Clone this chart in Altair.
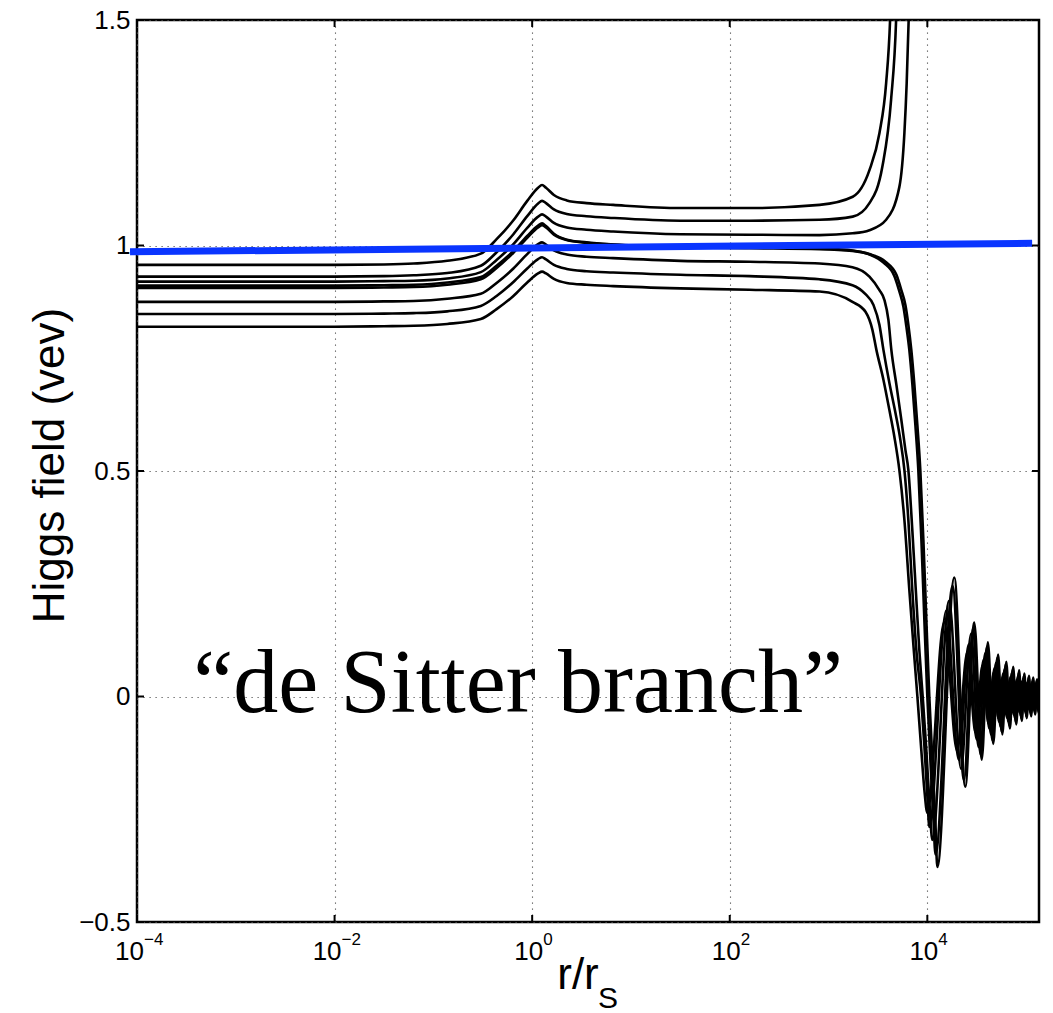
import altair as alt
import pandas as pd

# ---------------- data ----------------
# shared exponents (log10 r) for the left part of every curve
HEAD_EXP = [-4, -2, -1.5, -1.2, -0.86, -0.52, -0.36, -0.19, -0.05, 0.06, 0.1, 0.14,
            0.22, 0.35, 0.55, 0.82, 1.5, 2.2, 2.91]

C1_HEAD = [.957, .957, .958, .960, .966, .982, 1.014, 1.056, 1.099, 1.128, 1.134, 1.128,
           1.112, 1.100, 1.094, 1.090, 1.083, 1.083, 1.090]
C2_HEAD = [.931, .931, .932, .934, .939, .955, .985, 1.025, 1.065, 1.093, 1.099, 1.094,
           1.080, 1.070, 1.065, 1.061, 1.055, 1.055, 1.057]
C3_HEAD = [.920, .920, .921, .922, .927, .941, .968, 1.003, 1.039, 1.064, 1.069, 1.064,
           1.050, 1.040, 1.035, 1.031, 1.025, 1.024, 1.023]
C4_HEAD = [.911, .911, .912, .913, .918, .930, .955, .988, 1.021, 1.044, 1.049, 1.043,
           1.026, 1.013, 1.007, 1.002, .996, .994, .992]
C5_HEAD = [.906, .906, .907, .908, .913, .925, .950, .984, 1.017, 1.040, 1.045, 1.040,
           1.024, 1.012, 1.006, 1.002, .998, .996, .993]
C6_HEAD = [.875, .875, .876, .877, .882, .893, .917, .949, .981, 1.003, 1.007, 1.002,
           .989, .980, .975, .972, .966, .964, .960]
C7_HEAD = [.848, .848, .849, .850, .854, .866, .888, .919, .949, .970, .974, .969,
           .957, .948, .943, .940, .935, .932, .925]
C8_HEAD = [.820, .820, .821, .822, .826, .837, .859, .888, .918, .938, .942, .938,
           .926, .917, .913, .910, .905, .902, .898]

# break-away part (log10 r, value)
C1_MID_EXP = [3.245, 3.414, 3.515, 3.583, 3.623, 3.66]
C1_MID = [1.108, 1.167, 1.249, 1.36, 1.5, 1.8]
C2_MID_EXP = [3.245, 3.414, 3.545, 3.633, 3.684, 3.72]
C2_MID = [1.064, 1.094, 1.175, 1.323, 1.5, 1.8]
C3_MID_EXP = [3.245, 3.414, 3.583, 3.717, 3.768, 3.791, 3.811, 3.84]
C3_MID = [1.027, 1.034, 1.057, 1.13, 1.25, 1.36, 1.5, 1.8]
C4_MID_EXP = [3.242, 3.414, 3.576, 3.687, 3.737, 3.778, 3.808, 3.838, 3.869, 3.899, 3.929,
              3.960, 3.990, 4.020, 4.051, 4.081, 4.101]
C4_MID = [.988, .981, .964, .935, .901, .868, .824, .768, .691, .602, .502,
          .347, .170, 0.0, -.141, -.274, -.378]
C5_MID_EXP = [3.242, 3.414, 3.556, 3.667, 3.717, 3.758, 3.788, 3.818, 3.849, 3.879, 3.909,
              3.940, 3.970, 4.000, 4.031, 4.061, 4.083]
C5_MID = [.989, .980, .962, .932, .898, .864, .820, .768, .691, .602, .502,
          .347, .170, 0.0, -.141, -.270, -.350]
C6_MID_EXP = [3.242, 3.414, 3.515, 3.566, 3.606, 3.636, 3.687, 3.737, 3.778, 3.808, 3.848,
              3.889, 3.919, 3.953, 3.990, 4.020, 4.051]
C6_MID = [.952, .931, .901, .879, .835, .768, .691, .613, .547, .502, .369,
          .214, .103, 0.0, -.119, -.230, -.318]
C7_MID_EXP = [3.242, 3.374, 3.455, 3.515, 3.556, 3.616, 3.677, 3.727, 3.768, 3.808, 3.848,
              3.889, 3.936, 3.970, 4.000, 4.020]
C7_MID = [.912, .892, .868, .824, .768, .695, .629, .569, .502, .391, .236,
          .103, 0.0, -.109, -.220, -.289]
C8_MID_EXP = [3.242, 3.374, 3.444, 3.485, 3.556, 3.616, 3.667, 3.717, 3.768, 3.818, 3.859,
              3.899, 3.939, 3.970, 4.000]
C8_MID = [.875, .853, .813, .768, .702, .635, .575, .502, .391, .236, .114,
          .001, -.119, -.207, -.258]

# oscillating tails: extrema (r, value)
C4_TAIL_R = [18750, 24200, 29850, 35500, 41000, 46500, 52000, 57500, 63000, 68500, 74000,
             79500, 85000, 90500, 96000, 101500, 107000, 112500, 118000, 123500, 129000,
             134500, 140000]
C4_TAIL = [0.264, -0.200, 0.164, -0.140, 0.120, -0.105, 0.093, -0.084, 0.077, -0.071, 0.066,
           -0.062, 0.058, -0.054, 0.051, -0.048, 0.046, -0.044, 0.042, -0.040, 0.038,
           -0.037, 0.035]
C5_TAIL_R = [18000, 23500, 29000, 34500, 40000, 45500, 51000, 56500, 62000, 67500, 73000,
             78500, 84000, 89500, 95000, 100500, 106000, 111500, 117000, 122500, 128000,
             133500, 139000]
C5_TAIL = [0.245, -0.185, 0.152, -0.128, 0.110, -0.097, 0.086, -0.078, 0.071, -0.065, 0.060,
           -0.056, 0.052, -0.049, 0.046, -0.044, 0.042, -0.040, 0.038, -0.036, 0.035,
           -0.033, 0.032]
C6_TAIL_R = [16600, 21900, 27700, 33000, 38500, 44000, 49500, 55000, 60500, 66000, 71500,
             77000, 82500, 88000, 93500, 99000, 104500, 110000, 115500, 121000, 126500,
             132000, 137500]
C6_TAIL = [0.212, -0.160, 0.139, -0.112, 0.096, -0.084, 0.075, -0.067, 0.061, -0.056, 0.052,
           -0.048, 0.045, -0.042, 0.040, -0.037, 0.035, -0.034, 0.032, -0.031, 0.029,
           -0.028, 0.027]
C7_TAIL_R = [15500, 20800, 26200, 31600, 37000, 42400, 47800, 53200, 58600, 64000, 69400,
             74800, 80200, 85600, 91000, 96400, 101800, 107200, 112600, 118000, 123400,
             128800, 134200, 139600]
C7_TAIL = [0.190, -0.140, 0.115, -0.095, 0.081, -0.071, 0.063, -0.056, 0.051, -0.047, 0.043,
           -0.040, 0.037, -0.035, 0.033, -0.031, 0.029, -0.028, 0.027, -0.025, 0.024,
           -0.023, 0.022, -0.021]
C8_TAIL_R = [14800, 20000, 25400, 30800, 36200, 41600, 47000, 52400, 57800, 63200, 68600,
             74000, 79400, 84800, 90200, 95600, 101000, 106400, 111800, 117200, 122600,
             128000, 133400, 138800]
C8_TAIL = [0.165, -0.120, 0.098, -0.081, 0.069, -0.060, 0.053, -0.048, 0.043, -0.040, 0.036,
           -0.034, 0.031, -0.029, 0.028, -0.026, 0.025, -0.024, 0.022, -0.021, 0.020,
           -0.020, 0.019, -0.018]

BLUE_R = [8.5e-5, 1.15e5]
BLUE_V = [0.986, 1.005]

X_TICKS = [1e-4, 1e-2, 1, 1e2, 1e4]
X_TICK_EXP = ["\u22124", "\u22122", "0", "2", "4"]
Y_TICKS = [-0.5, 0, 0.5, 1, 1.5]

ANN_TEXT = "\u201cde Sitter branch\u201d"
ANN_R = 0.72
ANN_V = -0.035

Y_TITLE = "Higgs field (vev)"
X_TITLE = "r/r"
X_TITLE_SUB = "S"

# ---------------- build tables ----------------
curves = [
    ("C1", C1_HEAD, C1_MID_EXP, C1_MID, [], []),
    ("C2", C2_HEAD, C2_MID_EXP, C2_MID, [], []),
    ("C3", C3_HEAD, C3_MID_EXP, C3_MID, [], []),
    ("C4", C4_HEAD, C4_MID_EXP, C4_MID, C4_TAIL_R, C4_TAIL),
    ("C5", C5_HEAD, C5_MID_EXP, C5_MID, C5_TAIL_R, C5_TAIL),
    ("C6", C6_HEAD, C6_MID_EXP, C6_MID, C6_TAIL_R, C6_TAIL),
    ("C7", C7_HEAD, C7_MID_EXP, C7_MID, C7_TAIL_R, C7_TAIL),
    ("C8", C8_HEAD, C8_MID_EXP, C8_MID, C8_TAIL_R, C8_TAIL),
]
rows = []
for name, head, mexp, mval, tr, tv in curves:
    for e, v in zip(HEAD_EXP, head):
        rows.append({"curve": name, "r": 10.0 ** e, "v": v})
    for e, v in zip(mexp, mval):
        rows.append({"curve": name, "r": 10.0 ** e, "v": v})
    for r, v in zip(tr, tv):
        rows.append({"curve": name, "r": float(r), "v": v})
df = pd.DataFrame(rows)

blue_df = pd.DataFrame({"r": BLUE_R, "v": BLUE_V})
xt_df = pd.DataFrame({"r": X_TICKS, "e": X_TICK_EXP})
yt_df = pd.DataFrame({"v": Y_TICKS})
ann_df = pd.DataFrame({"r": [ANN_R], "v": [ANN_V], "t": [ANN_TEXT]})

W = 902
H = 902
FONT = "Liberation Sans"

xs = alt.Scale(type="log", domain=[1e-4, 1.35e5], nice=False)
ys = alt.Scale(domain=[-0.5, 1.5], nice=False)

x_axis = alt.Axis(values=X_TICKS, grid=True, labels=False, ticks=False, domain=False,
                  title=None, gridDash=[1.2, 4.8], gridColor="#555", gridWidth=1.1)
y_axis = alt.Axis(values=Y_TICKS, format="~g", grid=True, ticks=False, domain=False,
                  gridDash=[1.2, 4.8], gridColor="#555", gridWidth=1.1,
                  labelFontSize=26, labelFont=FONT, labelColor="black", labelPadding=7,
                  title=Y_TITLE, titleFontSize=44, titleFont=FONT, titleFontWeight="normal",
                  titleColor="black", titleAngle=270, titleX=-87, titleY=445,
                  titleAlign="center", titleBaseline="middle")


def X():
    return alt.X("r:Q", scale=xs, axis=x_axis)


def Y():
    return alt.Y("v:Q", scale=ys, axis=y_axis)


lines = alt.Chart(df).mark_line(interpolate="monotone", clip=True, color="black",
                                strokeWidth=2.6).encode(x=X(), y=Y(), detail="curve:N")

blue = alt.Chart(blue_df).mark_line(color="#0a35ff", strokeWidth=7, clip=False).encode(
    x=X(), y=Y())

ann = alt.Chart(ann_df).mark_text(font="Liberation Serif", fontSize=90, align="center",
                                  baseline="alphabetic", color="black").encode(
    x=X(), y=Y(), text="t:N")

tick_style = dict(color="black", strokeWidth=2)
bt = alt.Chart(xt_df).mark_rule(**tick_style).encode(x=X(), y=alt.value(H - 7), y2=alt.value(H))
tt = alt.Chart(xt_df).mark_rule(**tick_style).encode(x=X(), y=alt.value(0), y2=alt.value(7))
lt = alt.Chart(yt_df).mark_rule(**tick_style).encode(y=Y(), x=alt.value(0), x2=alt.value(7))
rt = alt.Chart(yt_df).mark_rule(**tick_style).encode(y=Y(), x=alt.value(W - 7), x2=alt.value(W))

neg = xt_df[xt_df["e"].str.len() > 1]
pos = xt_df[xt_df["e"].str.len() == 1]


def tick_labels(d, dx):
    base = alt.Chart(d).mark_text(text="10", font=FONT, fontSize=26, align="right",
                                  baseline="alphabetic", dx=dx, color="black").encode(
        x=X(), y=alt.value(940))
    sup = alt.Chart(d).mark_text(font=FONT, fontSize=17, align="left",
                                 baseline="alphabetic", dx=dx, color="black").encode(
        x=X(), y=alt.value(925), text="e:N")
    return base + sup


xl_neg = tick_labels(neg, 7)
xl_pos = tick_labels(pos, 11)

xtitle = alt.Chart(ann_df).mark_text(text=X_TITLE, font=FONT, fontSize=44, align="center",
                                     baseline="alphabetic", color="black").encode(
    x=alt.value(441), y=alt.value(969))
xsub = alt.Chart(ann_df).mark_text(text=X_TITLE_SUB, font=FONT, fontSize=30, align="left",
                                   baseline="alphabetic", color="black").encode(
    x=alt.value(461), y=alt.value(988))

chart = alt.layer(lines, blue, ann, bt, tt, lt, rt, xl_neg, xl_pos, xtitle, xsub).properties(
    width=W, height=H,
    padding={"left": 137, "top": 20, "right": 14, "bottom": 91},
    autosize="none",
    background="white",
).configure_view(stroke="black", strokeWidth=2.5)

chart.save("out.html", embed_options={"renderer": "svg", "actions": False})
